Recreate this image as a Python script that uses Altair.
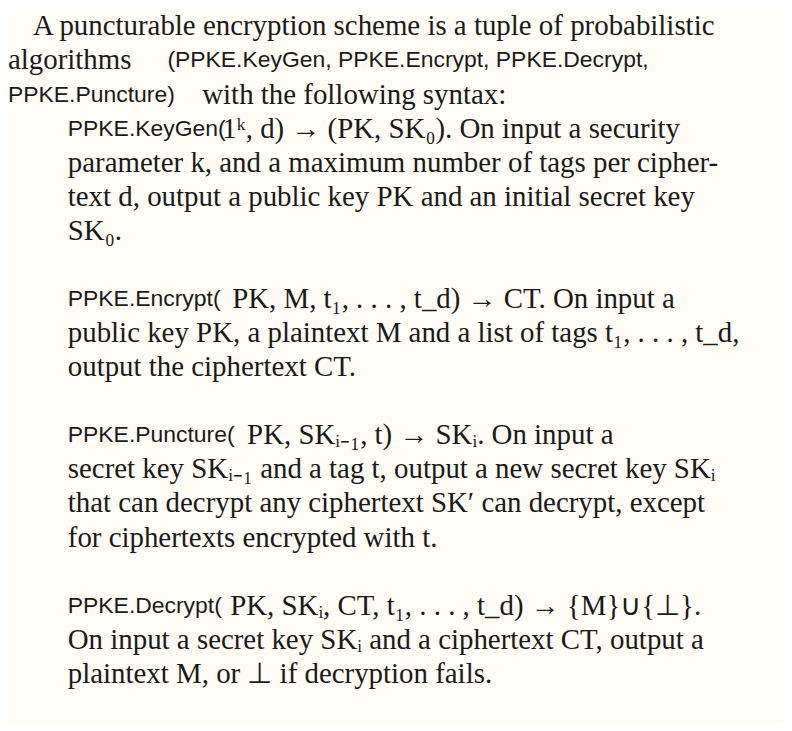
import altair as alt
import pandas as pd

rows = [0, 1, 1, 2, 2, 3, 3, 4, 5, 6, 8, 8, 9, 10, 12, 12, 13, 14, 15, 17, 17, 18, 19]
cols = [22, -3, 157, -3, 192, 57, 212, 57, 57, 57, 57, 222, 57, 57, 57, 237, 57, 57, 57, 57, 220, 57, 57]
fonts = ["serif", "serif", "sans", "sans", "serif", "sans", "serif", "serif", "serif", "serif",
         "sans", "serif", "serif", "serif", "sans", "serif", "serif", "serif", "serif",
         "sans", "serif", "serif", "serif"]
texts = [
    "A puncturable encryption scheme is a tuple of probabilistic",
    "algorithms",
    "(PPKE.KeyGen, PPKE.Encrypt, PPKE.Decrypt,",
    "PPKE.Puncture)",
    "with the following syntax:",
    "PPKE.KeyGen(",
    "1ᵏ, d) → (PK, SK₀). On input a security",
    "parameter k, and a maximum number of tags per cipher-",
    "text d, output a public key PK and an initial secret key",
    "SK₀.",
    "PPKE.Encrypt(",
    "PK, M, t₁, . . . , t_d)  →  CT. On input a",
    "public key PK, a plaintext M and a list of tags t₁, . . . , t_d,",
    "output the ciphertext CT.",
    "PPKE.Puncture(",
    "PK, SKᵢ₋₁, t)  →  SKᵢ. On input a",
    "secret key SKᵢ₋₁ and a tag t, output a new secret key SKᵢ",
    "that can decrypt any ciphertext SK′ can decrypt, except",
    "for ciphertexts encrypted with t.",
    "PPKE.Decrypt(",
    "PK, SKᵢ, CT, t₁, . . . , t_d) → {M}∪{⊥}.",
    "On input a secret key SKᵢ and a ciphertext CT, output a",
    "plaintext M, or ⊥ if decryption fails.",
]

df = pd.DataFrame({"row": rows, "col": cols, "font": fonts, "text": texts})

x = alt.X("col:Q", scale=alt.Scale(domain=[0, 776]), axis=None)
y = alt.Y("row:Q", scale=alt.Scale(domain=[-0.5, 20.4], reverse=True), axis=None)

serif = alt.Chart(df).transform_filter("datum.font == 'serif'").mark_text(
    font="Liberation Serif", fontSize=29, align="left", baseline="middle", color="#1a1a1a"
).encode(x=x, y=y, text="text:N")
sans = alt.Chart(df).transform_filter("datum.font == 'sans'").mark_text(
    font="Liberation Sans", fontSize=23, align="left", baseline="middle", color="#1a1a1a"
).encode(x=x, y=y, text="text:N")

chart = (serif + sans).properties(
    width=776, height=715, background="#fefcf4", padding=0
).configure_view(stroke=None)

chart.save("out.html", embed_options={"renderer": "svg", "actions": False})
